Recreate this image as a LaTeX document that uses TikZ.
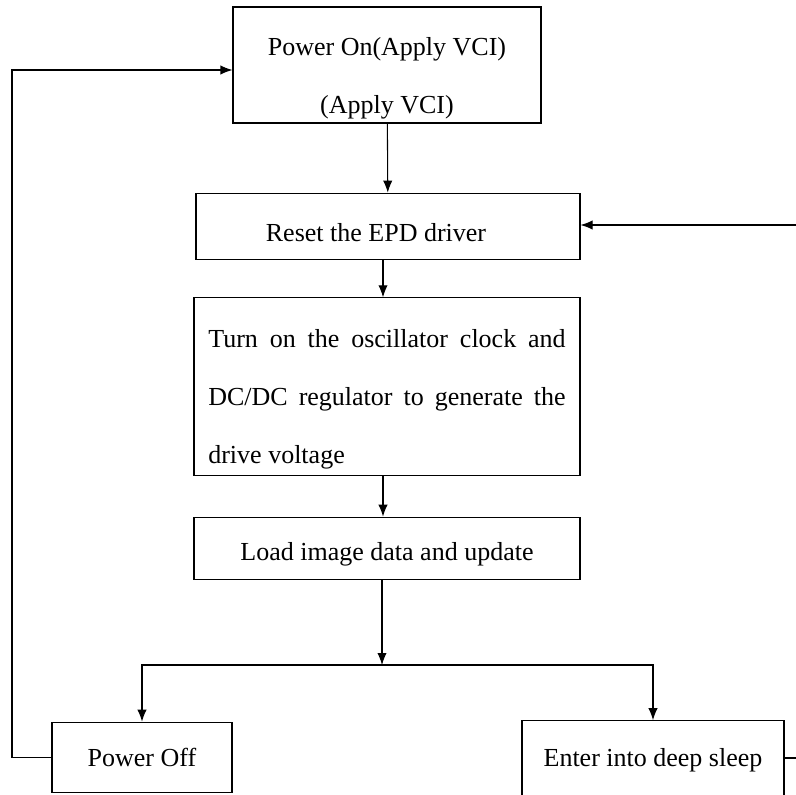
\documentclass[tikz,border=0pt]{standalone}
\usepackage{fontspec}
\setmainfont{Liberation Serif}
\usepackage{ragged2e}
\usetikzlibrary{arrows.meta}
\begin{document}
\begin{tikzpicture}
	[x=0.75pt, y=-0.75pt,
	line width=0.8pt,
	arr/.style={-{Latex[length=9pt,width=7pt]}},
	stepbox/.style={draw, rectangle, inner sep=0pt, align=center,
		font=\fontsize{19.5}{43.5}\selectfont},
	widebox/.style={stepbox, text width=268pt, align=justify}]
	\useasboundingbox (0, 0) rectangle (796, 795);
	\node (pon) at (387, 65) [stepbox, minimum width=231pt, minimum height=87pt] {\rule{0pt}{33pt}Power On(Apply VCI)\\(Apply VCI)};
	\node (reset) at (388, 226.5) [stepbox, minimum width=288pt, minimum height=50pt] {\hspace*{-18pt}\rule{0pt}{22pt}Reset the EPD driver};
	\node (osc) at (387, 386.5) [widebox, minimum width=289.5pt, minimum height=133pt] {\justifying\rule{0pt}{33pt}Turn on the oscillator clock and DC/DC regulator to generate the drive voltage\par};
	\node (load) at (387, 548.5) [stepbox, minimum width=289.5pt, minimum height=47pt] {\rule{0pt}{22pt}Load image data and update};
	\node (poff) at (142, 757.5) [stepbox, minimum width=135pt, minimum height=53pt] {Power Off};
	\node (sleep) at (653, 760) [stepbox, minimum width=196.5pt, minimum height=59pt] {Enter into deep sleep};
	\coordinate (j) at (382, 665);
	\coordinate (lt) at (12, 70);
	\coordinate (rt) at (796, 225);
	\coordinate (rb) at (796, 758);
	\draw [arr] (pon) to (reset);
	\draw [arr] (reset.south -| 383, 0) to (osc.north -| 383, 0);
	\draw [arr] (osc.south -| 383, 0) to (load.north -| 383, 0);
	\draw [arr] (load.south -| j) to (j);
	\draw [arr] (j) -| (poff.north);
	\draw [arr] (j) -| (sleep.north);
	\draw [arr] (poff.west) -| (lt) -- (pon.west |- lt);
	\draw [arr] (rt) -- (reset.east |- rt);
	\draw (sleep.east |- rb) -- (rb);
\end{tikzpicture}
\end{document}
